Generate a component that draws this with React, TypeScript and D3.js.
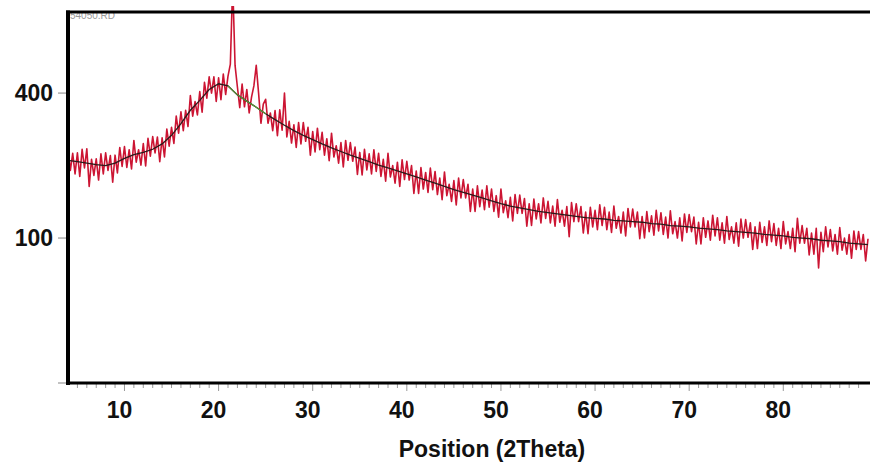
import * as d3 from "d3";
import { useEffect, useRef } from "react";

// 2Theta positions of the measured points (0.25 deg step, 4..89)
const startAngle = 4;
const stepAngle = 0.25;

const counts = [
  261, 215, 251, 208, // 4
  252, 203, 260, 220, // 5
  261, 184, 238, 205, // 6
  239, 196, 250, 208, // 7
  252, 215, 246, 192, // 8
  247, 210, 264, 223, // 9
  266, 221, 259, 218, // 10
  280, 232, 259, 226, // 11
  273, 224, 285, 245, // 12
  289, 252, 288, 233, // 13
  286, 243, 307, 267, // 14
  311, 273, 339, 297, // 15
  350, 303, 354, 313, // 16
  393, 339, 377, 342, // 17
  404, 349, 430, 386, // 18
  446, 400, 446, 377, // 19
  443, 382, 454, 396, // 20
  448, 484, 760, 480, // 21
  417, 361, 425, 363, // 22
  410, 347, 389, 420, // 23
  480, 400, 321, 370, // 24
  383, 321, 347, 303, // 25
  353, 291, 355, 304, // 26
  400, 288, 326, 274, // 27
  317, 264, 323, 272, // 28
  323, 278, 311, 247, // 29
  301, 254, 309, 259, // 30
  299, 247, 284, 235, // 31
  297, 243, 268, 230, // 32
  275, 222, 280, 236, // 33
  275, 234, 265, 207, // 34
  253, 206, 260, 216, // 35
  250, 208, 259, 213, // 36
  251, 203, 238, 194, // 37
  251, 202, 225, 190, // 38
  232, 184, 237, 197, // 39
  234, 196, 225, 171, // 40
  214, 171, 221, 179, // 41
  211, 173, 220, 178, // 42
  213, 169, 200, 160, // 43
  212, 167, 188, 157, // 44
  195, 151, 200, 163, // 45
  197, 163, 188, 140, // 46
  179, 140, 185, 148, // 47
  177, 143, 185, 147, // 48
  179, 140, 167, 131, // 49
  179, 138, 158, 130, // 50
  164, 125, 169, 137, // 51
  168, 137, 162, 117, // 52
  153, 118, 161, 128, // 53
  153, 122, 163, 129, // 54
  157, 122, 149, 117, // 55
  160, 123, 142, 117, // 56
  148, 102, 155, 124, // 57
  153, 124, 148, 107, // 58
  139, 106, 147, 116, // 59
  142, 112, 151, 118, // 60
  147, 112, 139, 108, // 61
  149, 114, 132, 107, // 62
  139, 103, 145, 116, // 63
  144, 116, 139, 99, // 64
  132, 100, 140, 109, // 65
  133, 104, 142, 110, // 66
  138, 105, 131, 100, // 67
  141, 106, 124, 100, // 68
  130, 96, 136, 108, // 69
  135, 109, 131, 92, // 70
  123, 92, 130, 101, // 71
  125, 97, 134, 103, // 72
  130, 97, 122, 93, // 73
  132, 98, 116, 93, // 74
  122, 89, 128, 100, // 75
  127, 101, 122, 85, // 76
  116, 86, 123, 94, // 77
  116, 90, 125, 95, // 78
  121, 90, 114, 86, // 79
  124, 92, 109, 86, // 80
  114, 82, 129, 93, // 81
  118, 93, 114, 78, // 82
  107, 79, 114, 63, // 83
  108, 82, 116, 88, // 84
  112, 83, 105, 79, // 85
  115, 84, 100, 79, // 86
  105, 74, 110, 85, // 87
  109, 85, 105, 71, // 88
  99, // 89
];

// fitted background, one value per degree from 4 to 89
const background = [
  236, 233, 230, 227, 225, 230, 240, 248, 253, 260, 272, 292, 320, 354, 380, 410,
  426, 420, 395, 378, 362, 345, 330, 316, 303, 292, 282, 272, 263, 255, 247, 240,
  233, 226, 220, 214, 208, 202, 196, 190, 184, 178, 173, 168, 163, 158, 153, 149,
  146, 143, 140, 138, 136, 134, 132, 130, 129, 128, 126, 125, 124, 123, 121, 120,
  118, 117, 116, 114, 113, 112, 110, 109, 108, 107, 105, 104, 103, 101, 100, 99,
  97, 96, 95, 93, 92, 91,
];

const xTicks = [10, 20, 30, 40, 50, 60, 70, 80];
const yTicks = [100, 400];

function App() {
  const ref = useRef<SVGSVGElement>(null);
  const width = 870;
  const height = 462;
  const left = 68;
  const right = 868;
  const top = 12;
  const bottom = 383;

  useEffect(() => {
    const svg = d3.select(ref.current);
    svg.selectAll("*").remove();

    const x = d3.scaleLinear().domain([4, 89]).range([left, right]);
    const y = d3.scaleSqrt().domain([0, 655]).range([bottom, top]);

    svg
      .append("defs")
      .append("clipPath")
      .attr("id", "plot")
      .append("rect")
      .attr("x", left)
      .attr("y", 6)
      .attr("width", right - left + 2)
      .attr("height", bottom - 6);

    // small file name in corner
    svg
      .append("text")
      .attr("x", 70)
      .attr("y", 19)
      .attr("font-family", "Liberation Sans, Arial, sans-serif")
      .attr("font-size", 10)
      .attr("fill", "#9a9a9a")
      .text("54050.RD");

    const obs = counts.map((c, i) => [startAngle + i * stepAngle, c] as [number, number]);
    const bg = background.map((c, i) => [startAngle + i, c] as [number, number]);

    const line = d3
      .line<[number, number]>()
      .x((d) => x(d[0]))
      .y((d) => y(d[1]));

    svg
      .append("path")
      .attr("clip-path", "url(#plot)")
      .attr("d", line(obs))
      .attr("fill", "none")
      .attr("stroke", "#cc1533")
      .attr("stroke-width", 1.6)
      .attr("stroke-linejoin", "round");

    svg
      .append("path")
      .attr("d", line(bg))
      .attr("fill", "none")
      .attr("stroke", "#2a1a1a")
      .attr("stroke-width", 1.3);

    // green piece of background under the peaks
    svg
      .append("path")
      .attr("d", line(bg.filter((d) => d[0] >= 21 && d[0] <= 25)))
      .attr("fill", "none")
      .attr("stroke", "#5a9a3a")
      .attr("stroke-width", 1.2);

    // x minor / major ticks
    const minor = d3.range(5, 89, 1);
    svg
      .selectAll(".mt")
      .data(minor)
      .enter()
      .append("line")
      .attr("x1", (d) => x(d))
      .attr("x2", (d) => x(d))
      .attr("y1", bottom)
      .attr("y2", (d) => (d % 10 === 0 ? bottom + 8 : bottom + 5))
      .attr("stroke", "#999")
      .attr("stroke-width", 1);

    // y ticks
    svg
      .selectAll(".yt")
      .data([0, ...yTicks])
      .enter()
      .append("line")
      .attr("x1", 58)
      .attr("x2", left)
      .attr("y1", (d) => y(d))
      .attr("y2", (d) => y(d))
      .attr("stroke", "#999")
      .attr("stroke-width", 1.2);

    // frame
    svg
      .append("line")
      .attr("x1", left - 2)
      .attr("x2", width)
      .attr("y1", top)
      .attr("y2", top)
      .attr("stroke", "#000")
      .attr("stroke-width", 3);
    svg
      .append("line")
      .attr("x1", left - 2)
      .attr("x2", width)
      .attr("y1", bottom)
      .attr("y2", bottom)
      .attr("stroke", "#000")
      .attr("stroke-width", 3);
    svg
      .append("line")
      .attr("x1", left)
      .attr("x2", left)
      .attr("y1", top - 1.5)
      .attr("y2", bottom + 2)
      .attr("stroke", "#000")
      .attr("stroke-width", 4);

    const font = "Liberation Sans, Arial, Helvetica, sans-serif";

    svg
      .selectAll(".xl")
      .data(xTicks)
      .enter()
      .append("text")
      .attr("x", (d) => x(d) - 5)
      .attr("y", 418)
      .attr("text-anchor", "middle")
      .attr("font-family", font)
      .attr("font-weight", "bold")
      .attr("font-size", 23)
      .attr("fill", "#111")
      .text((d) => d);

    svg
      .selectAll(".yl")
      .data(yTicks)
      .enter()
      .append("text")
      .attr("x", 53)
      .attr("y", (d) => y(d) + 8)
      .attr("text-anchor", "end")
      .attr("font-family", font)
      .attr("font-weight", "bold")
      .attr("font-size", 23)
      .attr("fill", "#111")
      .text((d) => d);

    svg
      .append("text")
      .attr("x", 492)
      .attr("y", 457)
      .attr("text-anchor", "middle")
      .attr("font-family", font)
      .attr("font-weight", "bold")
      .attr("font-size", 23)
      .attr("fill", "#111")
      .text("Position (2Theta)");
  }, []);

  return (
    <svg
      ref={ref}
      width={width}
      height={height}
      style={{ position: "absolute", left: 0, top: 0, background: "#fff" }}
    />
  );
}

export default App;
